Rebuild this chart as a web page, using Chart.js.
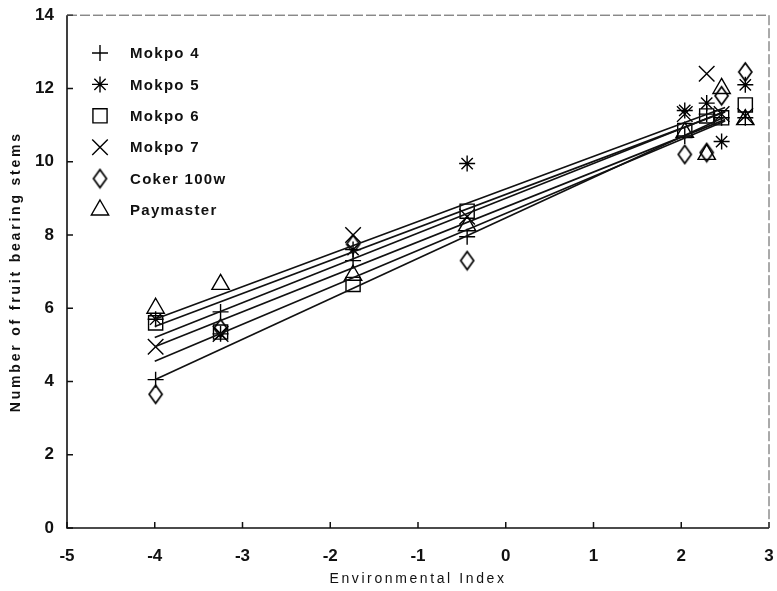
<!DOCTYPE html>
<html>
<head>
<meta charset="utf-8">
<script src="https://cdn.jsdelivr.net/npm/chart.js@4/dist/chart.umd.min.js"></script>
<style>
    html, body { margin: 0; padding: 0; background: #fff; }
    #wrap { width: 777px; height: 591px; }
</style>
</head>
<body>
<div id="wrap"><canvas id="scatterChart"></canvas></div>
<script>
/* 환경지수 vs 결과지 수 */

const envIndex = [-3.99, -3.25, -1.74, -0.44, 2.04, 2.29, 2.46, 2.73];
const varieties = ['Mokpo 4', 'Mokpo 5', 'Mokpo 6', 'Mokpo 7', 'Coker 100w', 'Paymaster'];

const mokpo4 = [4.05, 5.9, 7.3, 7.95, 10.7, 11.3, 11.2, 11.2];
const mokpo5 = [5.7, 5.3, 7.6, 9.95, 11.4, 11.6, 10.55, 12.1];
const mokpo6 = [5.6, 5.35, 6.65, 8.65, 10.85, 11.25, 11.2, 11.55];
const mokpo7 = [4.95, 5.3, 8.0, 8.5, 11.3, 12.4, 11.3, 11.25];
const coker100w = [3.65, 5.45, 7.75, 7.3, 10.2, 10.25, 11.8, 12.45];
const paymaster = [6.0, 6.65, 6.9, 8.25, 10.8, 10.2, 12.0, 11.15];

// 회귀선: x = -4, x = 2.5 에서 읽은 값
const lineX = [-4, 2.5];
const lineStart = [4.05, 5.5, 5.2, 4.95, 4.55, 5.7];
const lineEnd = [11.23, 11.36, 11.38, 11.15, 11.11, 11.48];

const xTicks = [-5, -4, -3, -2, -1, 0, 1, 2, 3];
const yTicks = [0, 2, 4, 6, 8, 10, 12, 14];

// 마름모 (세로로 긴 모양)
function diamondImg(w, h) {
    const c = document.createElement('canvas');
    c.width = w + 4;
    c.height = h + 4;
    const g = c.getContext('2d');
    g.strokeStyle = '#000';
    g.lineWidth = 1.7;
    g.beginPath();
    g.moveTo(c.width / 2, 2);
    g.lineTo(c.width - 2, c.height / 2);
    g.lineTo(c.width / 2, c.height - 2);
    g.lineTo(2, c.height / 2);
    g.closePath();
    g.stroke();
    return c;
}

const seriesValues = [mokpo4, mokpo5, mokpo6, mokpo7, coker100w, paymaster];
const markerStyles = ['cross', 'star', 'rect', 'crossRot', diamondImg(13, 18), 'triangle'];
const markerSizes = [8, 8, 10, 11, 9, 10];

const datasets = [];
varieties.forEach((name, i) => {
    datasets.push({
        label: name + ' fit',
        data: lineX.map((x, j) => ({ x: x, y: j === 0 ? lineStart[i] : lineEnd[i] })),
        showLine: true,
        borderColor: '#111',
        borderWidth: 1.7,
        pointRadius: 0,
        fill: false
    });
});
varieties.forEach((name, i) => {
    datasets.push({
        label: name,
        data: envIndex.map((x, j) => ({ x: x, y: seriesValues[i][j] })),
        showLine: false,
        pointStyle: markerStyles[i],
        pointRadius: markerSizes[i],
        pointBorderWidth: 1.4,
        borderColor: '#000',
        backgroundColor: 'rgba(0,0,0,0)'
    });
});

// 안쪽 눈금, 테두리, 축 제목, 범례
const framePlugin = {
    id: 'frame',
    afterDatasetsDraw(chart) {
        const { ctx, chartArea: a, scales: { x, y } } = chart;
        ctx.save();
        ctx.strokeStyle = '#111';
        ctx.lineWidth = 1.5;
        ctx.beginPath();
        xTicks.forEach(v => {
            const px = x.getPixelForValue(v);
            ctx.moveTo(px, a.bottom);
            ctx.lineTo(px, a.bottom - 6);
        });
        yTicks.forEach(v => {
            const py = y.getPixelForValue(v);
            ctx.moveTo(a.left, py);
            ctx.lineTo(a.left + 6, py);
        });
        ctx.stroke();

        ctx.lineWidth = 1.6;
        ctx.beginPath();
        ctx.moveTo(a.left, a.top);
        ctx.lineTo(a.left, a.bottom);
        ctx.lineTo(a.right, a.bottom);
        ctx.stroke();
        ctx.strokeStyle = '#555';
        ctx.lineWidth = 1;
        ctx.setLineDash([10, 3]);
        ctx.beginPath();
        ctx.moveTo(a.left, a.top);
        ctx.lineTo(a.right, a.top);
        ctx.lineTo(a.right, a.bottom);
        ctx.stroke();
        ctx.setLineDash([]);

        // 축 제목
        ctx.fillStyle = '#111';
        ctx.textBaseline = 'middle';
        ctx.textAlign = 'center';
        ctx.font = '14px "Liberation Sans", Arial, sans-serif';
        ctx.letterSpacing = '2.6px';
        ctx.fillText('Environmental Index', (a.left + a.right) / 2, 579);

        ctx.save();
        ctx.translate(16, (a.top + a.bottom) / 2);
        ctx.rotate(-Math.PI / 2);
        ctx.font = 'bold 14px "Liberation Sans", Arial, sans-serif';
        ctx.letterSpacing = '2.8px';
        ctx.fillText('Number of fruit bearing stems', 0, 0);
        ctx.restore();

        // 범례
        ctx.font = 'bold 15px "Liberation Sans", Arial, sans-serif';
        ctx.letterSpacing = '1.3px';
        ctx.textAlign = 'left';
        ctx.strokeStyle = '#000';
        ctx.fillStyle = '#111';
        varieties.forEach((name, i) => {
            const ly = 53 + i * 31.4;
            ctx.save();
            ctx.lineWidth = 1.4;
            ctx.fillStyle = 'rgba(0,0,0,0)';
            Chart.helpers.drawPoint(ctx, {
                pointStyle: markerStyles[i],
                radius: markerSizes[i],
                borderWidth: 1.4,
                rotation: 0
            }, 100, ly);
            ctx.restore();
            ctx.fillText(name, 130, ly + 1);
        });
        ctx.restore();
    }
};

const config = {
    type: 'scatter',
    data: { datasets: datasets },
    options: {
        responsive: false,
        animation: false,
        layout: { autoPadding: false, padding: { left: 0, right: 8, top: 13, bottom: 0 } },
        scales: {
            x: {
                type: 'linear',
                min: -5,
                max: 3,
                afterFit: (scale) => {
                    scale.height = 63;
                    scale.paddingLeft = 0;
                    scale.paddingRight = 0;
                },
                afterBuildTicks: (scale) => { scale.ticks = xTicks.map(v => ({ value: v })); },
                grid: { display: false },
                border: { display: false },
                ticks: {
                    color: '#111',
                    padding: 10,
                    font: { family: '"Liberation Sans", Arial, sans-serif', size: 17, weight: 'bold' }
                }
            },
            y: {
                type: 'linear',
                min: 0,
                max: 14,
                afterFit: (scale) => { scale.width = 67; },
                afterBuildTicks: (scale) => { scale.ticks = yTicks.map(v => ({ value: v })); },
                grid: { display: false },
                border: { display: false },
                ticks: {
                    color: '#111',
                    padding: 5,
                    font: { family: '"Liberation Sans", Arial, sans-serif', size: 17, weight: 'bold' }
                }
            }
        },
        plugins: {
            legend: { display: false },
            tooltip: { enabled: false }
        }
    },
    plugins: [framePlugin]
};

const canvas = document.getElementById('scatterChart');
canvas.width = 777;
canvas.height = 591;
new Chart(canvas.getContext('2d'), config);
</script>
</body>
</html>
